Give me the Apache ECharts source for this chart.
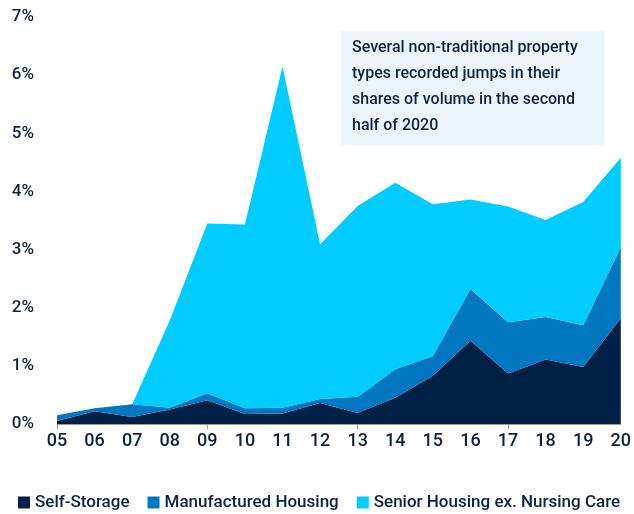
<!DOCTYPE html>
<html>
<head>
<meta charset="utf-8">
<script src="https://cdn.jsdelivr.net/npm/echarts@6/dist/echarts.min.js"></script>
<style>
  html, body { margin: 0; padding: 0; background: #fff; }
  #chart { width: 634px; height: 514px; }
</style>
</head>
<body>
<div id="chart"></div>
<script>
  var years = ["05", "06", "07", "08", "09", "10", "11", "12", "13", "14", "15", "16", "17", "18", "19", "20"];
  // share of volume, %
  var selfStorage = [0.05, 0.22, 0.12, 0.25, 0.41, 0.17, 0.18, 0.36, 0.19, 0.45, 0.83, 1.43, 0.87, 1.11, 0.98, 1.82];
  var manufactured = [0.10, 0.05, 0.22, 0.03, 0.12, 0.10, 0.10, 0.07, 0.28, 0.49, 0.34, 0.89, 0.88, 0.73, 0.72, 1.22];
  var seniorHousing = [0, 0, 0, 1.50, 2.92, 3.16, 5.87, 2.66, 3.28, 3.21, 2.61, 1.54, 1.99, 1.67, 2.12, 1.54];
  var noteLines = [
    "Several non-traditional property",
    "types recorded jumps in their",
    "shares of volume in the second",
    "half of 2020"
  ];

  var font = 'Roboto, "Noto Sans", sans-serif';
  var navy = "#0d2240";

  var myChart = echarts.init(document.getElementById("chart"));

  function areaSeries(name, data, color) {
    return {
      name: name,
      type: "line",
      stack: "total",
      data: data,
      symbol: "none",
      lineStyle: { width: 0 },
      areaStyle: { color: color, opacity: 1 },
      itemStyle: { color: color },
      emphasis: { disabled: true }
    };
  }

  var option = {
    animation: false,
    textStyle: { fontFamily: font },
    grid: { left: 57, right: 11, top: 17, bottom: 90 },
    legend: {
      left: 18,
      bottom: 3,
      width: 616,
      padding: 0,
      itemWidth: 12,
      itemHeight: 12,
      itemGap: 18,
      icon: "rect",
      textStyle: { fontFamily: font, fontSize: 17, fontWeight: 500, color: navy },
      data: ["Self-Storage", "Manufactured Housing", "Senior Housing ex. Nursing Care"]
    },
    xAxis: {
      type: "category",
      data: years,
      boundaryGap: false,
      axisLine: { lineStyle: { color: "#9a9a9a", width: 1 } },
      axisTick: {
        length: 5,
        lineStyle: { color: "#9a9a9a" },
        interval: function(i) { return i % 4 === 0; }
      },
      axisLabel: { interval: 0, fontSize: 18, fontWeight: 500, color: navy, margin: 8 }
    },
    yAxis: {
      type: "value",
      min: 0,
      max: 7,
      interval: 1,
      splitLine: { show: false },
      axisLine: { show: false },
      axisTick: { show: false },
      axisLabel: { fontSize: 17, fontWeight: 500, color: navy, margin: 23, formatter: "{value}%" }
    },
    graphic: [
      {
        type: "rect",
        left: 341,
        top: 31,
        shape: { width: 264, height: 114 },
        style: { fill: "#ebf6fc" },
        z: 10
      },
      {
        type: "text",
        left: 352,
        top: 35,
        style: {
          text: noteLines.join("\n"),
          font: "500 16px " + font,
          lineHeight: 26,
          fill: navy
        },
        z: 11
      }
    ],
    series: [
      areaSeries("Self-Storage", selfStorage, "#002147"),
      areaSeries("Manufactured Housing", manufactured, "#0077c0"),
      areaSeries("Senior Housing ex. Nursing Care", seniorHousing, "#00ccff")
    ]
  };
  myChart.setOption(option);
</script>
</body>
</html>
